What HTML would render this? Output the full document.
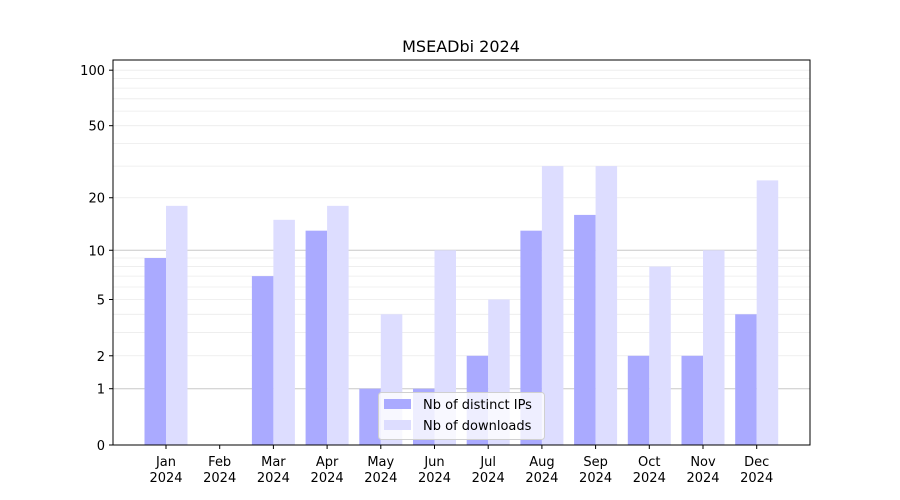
<!DOCTYPE html>
<html><head><meta charset="utf-8"><style>
html,body{margin:0;padding:0;background:#fff;}
svg{display:block;font-family:"DejaVu Sans","Liberation Sans",sans-serif;}
</style></head><body>
<svg id="chart" width="900" height="500" viewBox="0 0 900 500">
<rect width="900" height="500" fill="#fff"/>
<text x="461" y="52" font-size="16" text-anchor="middle" fill="#000">MSEADbi 2024</text>
<g id="grid"></g><g id="bars"></g><g id="axes"></g>
</svg>
<script>
const categories = ["Jan","Feb","Mar","Apr","May","Jun","Jul","Aug","Sep","Oct","Nov","Dec"];
const yearLabel = "2024";
const ipsValues = [9,0,7,13,1,1,2,13,16,2,2,4];
const downloadValues = [18,0,15,18,4,10,5,30,30,8,10,25];
const yTicks = [0,1,2,5,10,20,50,100];
const minorTicks = [2,3,4,5,6,7,8,9,20,30,40,50,60,70,80,90,100];
const majorGrid = [1,10];

const NS="http://www.w3.org/2000/svg";
const L=113,R=810,T=60,B=445;
function y(v){return B-187*Math.log10(1+v);}
const step=(R-L)/categories.length;
function xc(i){return 166+i*53.7;}
function mk(tag,attrs,parent){const e=document.createElementNS(NS,tag);for(const k in attrs)e.setAttribute(k,attrs[k]);parent.appendChild(e);return e;}
const grid=document.getElementById('grid'),bars=document.getElementById('bars'),axes=document.getElementById('axes');
minorTicks.forEach(v=>{const l=mk('line',{x1:L,x2:R,y1:y(v),y2:y(v),stroke:'#ebebeb','stroke-width':0.8},grid);

});
majorGrid.forEach(v=>{const l=mk('line',{x1:L,x2:R,y1:y(v),y2:y(v),stroke:'#c8c8c8','stroke-width':1},grid);

});
categories.forEach((c,i)=>{
 const bw=21.5;
 const a=mk('rect',{x:xc(i)-bw,y:y(ipsValues[i]),width:bw,height:B-y(ipsValues[i]),fill:'#aaaaff'},bars);
 
 
 const b=mk('rect',{x:xc(i),y:y(downloadValues[i]),width:bw,height:B-y(downloadValues[i]),fill:'#ddddff'},bars);
 
 
 mk('line',{x1:xc(i),x2:xc(i),y1:B,y2:B+4,stroke:'#000'},axes);
 const t=mk('text',{x:xc(i),y:B+21,'font-size':13,'text-anchor':'middle'},axes);t.textContent=c;
 
 
 const t2=mk('text',{x:xc(i),y:B+37,'font-size':13,'text-anchor':'middle'},axes);t2.textContent=yearLabel;
 
 
});
yTicks.forEach(v=>{
 mk('line',{x1:L-4,x2:L,y1:y(v),y2:y(v),stroke:'#000'},axes);
 const t=mk('text',{x:L-8,y:y(v)+5,'font-size':13,'text-anchor':'end'},axes);t.textContent=v;
 
 
});
const f=mk('rect',{x:L,y:T,width:R-L,height:B-T,fill:'none',stroke:'#000','stroke-width':1},axes);


const lg=mk('g',{},axes);


mk('rect',{x:378.5,y:392.5,width:166,height:47,rx:3,fill:'#fff','fill-opacity':0.8,stroke:'#d0d0d0'},lg);
mk('rect',{x:384,y:399,width:27,height:10,fill:'#aaaaff'},lg);
mk('rect',{x:384,y:420,width:27,height:10,fill:'#ddddff'},lg);
const l1=mk('text',{x:423,y:409,'font-size':13},lg);l1.textContent='Nb of distinct IPs';


const l2=mk('text',{x:423,y:430,'font-size':13},lg);l2.textContent='Nb of downloads';


</script>
</body></html>
